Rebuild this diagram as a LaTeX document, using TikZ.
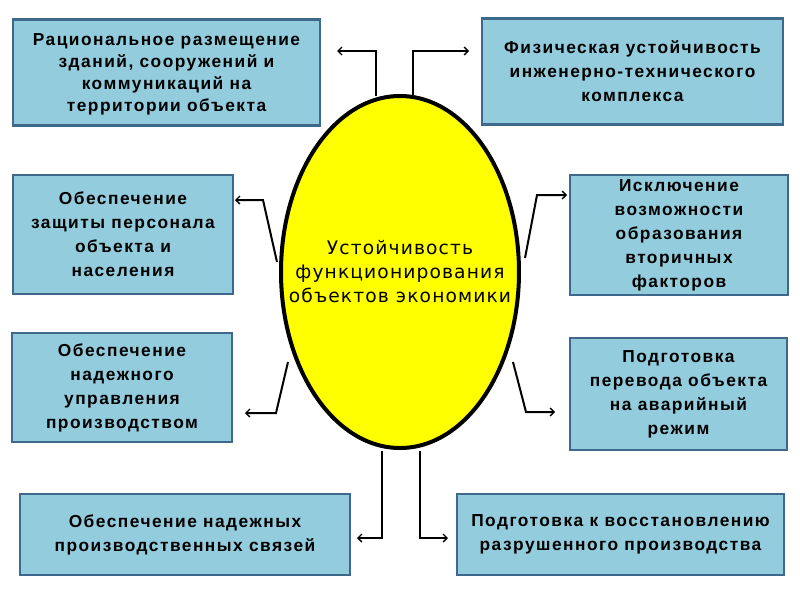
\documentclass[tikz,border=0pt]{standalone}
\usepackage{fontspec}
\setmainfont{Liberation Sans}[LetterSpace=8.5]
\newfontfamily\elfont{DejaVu Sans}[LetterSpace=6]
\usetikzlibrary{shapes.geometric,arrows.meta}
\definecolor{boxfill}{RGB}{147,205,221}
\definecolor{boxline}{RGB}{62,104,140}
\definecolor{elfill}{RGB}{255,255,0}
\tikzset{
  infobox/.style={draw=boxline, line width=2pt, fill=boxfill, align=center,
    font=\fontsize{13}{18}\selectfont\bfseries, inner sep=0pt},
  conn/.style={draw=black, line width=1.5pt, -{Straight Barb[length=3pt,width=6pt,line width=1pt]}},
}
\begin{document}
\begin{tikzpicture}[x=0.75pt,y=-0.75pt]
\useasboundingbox (0,0) rectangle (800,600);
\node[ellipse, draw=black, line width=3pt, fill=elfill, minimum width=238*0.75pt, minimum height=352*0.75pt,
  inner xsep=-40pt, inner ysep=0pt,
  align=center, font=\elfont\fontsize{14}{18}\selectfont] (el) at (400,272)
  {Устойчивость\\функционирования\\объектов экономики};

\node[infobox, minimum width=307*0.75pt, minimum height=106*0.75pt,
  font=\fontsize{13}{16.5}\selectfont\bfseries, text depth=0pt] (b1) at (166.5,72.5)
  {Рациональное размещение\\зданий, сооружений и\\коммуникаций на\\территории объекта};
\node[infobox, minimum width=301*0.75pt, minimum height=106*0.75pt] (b2) at (632.5,71.5)
  {Физическая устойчивость\\инженерно-технического\\комплекса};
\node[infobox, minimum width=220*0.75pt, minimum height=119*0.75pt] (b3) at (123,234.5)
  {Обеспечение\\защиты персонала\\объекта и\\населения};
\node[infobox, minimum width=218*0.75pt, minimum height=120*0.75pt] (b4) at (679,235)
  {Исключение\\возможности\\образования\\вторичных\\факторов};
\node[infobox, minimum width=220*0.75pt, minimum height=109*0.75pt] (b5) at (122,387.5)
  {Обеспечение\\надежного\\управления\\производством};
\node[infobox, minimum width=217*0.75pt, minimum height=112*0.75pt] (b6) at (678.5,394)
  {Подготовка\\перевода объекта\\на аварийный\\режим};
\node[infobox, minimum width=330*0.75pt, minimum height=81*0.75pt] (b7) at (185,534.5)
  {Обеспечение надежных\\производственных связей};
\node[infobox, minimum width=327*0.75pt, minimum height=81*0.75pt] (b8) at (620.5,534.5)
  {Подготовка к восстановлению\\разрушенного производства};

% connector points
\coordinate (s1) at (376,96);  \coordinate (e1) at (337,51);
\coordinate (s2) at (413,96);  \coordinate (e2) at (469,51);
\coordinate (s3) at (277,262); \coordinate (k3) at (263,200); \coordinate (e3) at (235,200);
\coordinate (s4) at (525,258); \coordinate (k4) at (537,195); \coordinate (e4) at (567,195);
\coordinate (s5) at (288,362); \coordinate (k5) at (276,413); \coordinate (e5) at (245,413);
\coordinate (s6) at (513,362); \coordinate (k6) at (526,412); \coordinate (e6) at (555,412);
\coordinate (s7) at (382,451); \coordinate (e7) at (357,538);
\coordinate (s8) at (420,451); \coordinate (e8) at (448,538);

\draw[conn] (s1) |- (e1);
\draw[conn] (s2) |- (e2);
\draw[conn] (s3) -- (k3) -- (e3);
\draw[conn] (s4) -- (k4) -- (e4);
\draw[conn] (s5) -- (k5) -- (e5);
\draw[conn] (s6) -- (k6) -- (e6);
\draw[conn] (s7) |- (e7);
\draw[conn] (s8) |- (e8);
\end{tikzpicture}
\end{document}
